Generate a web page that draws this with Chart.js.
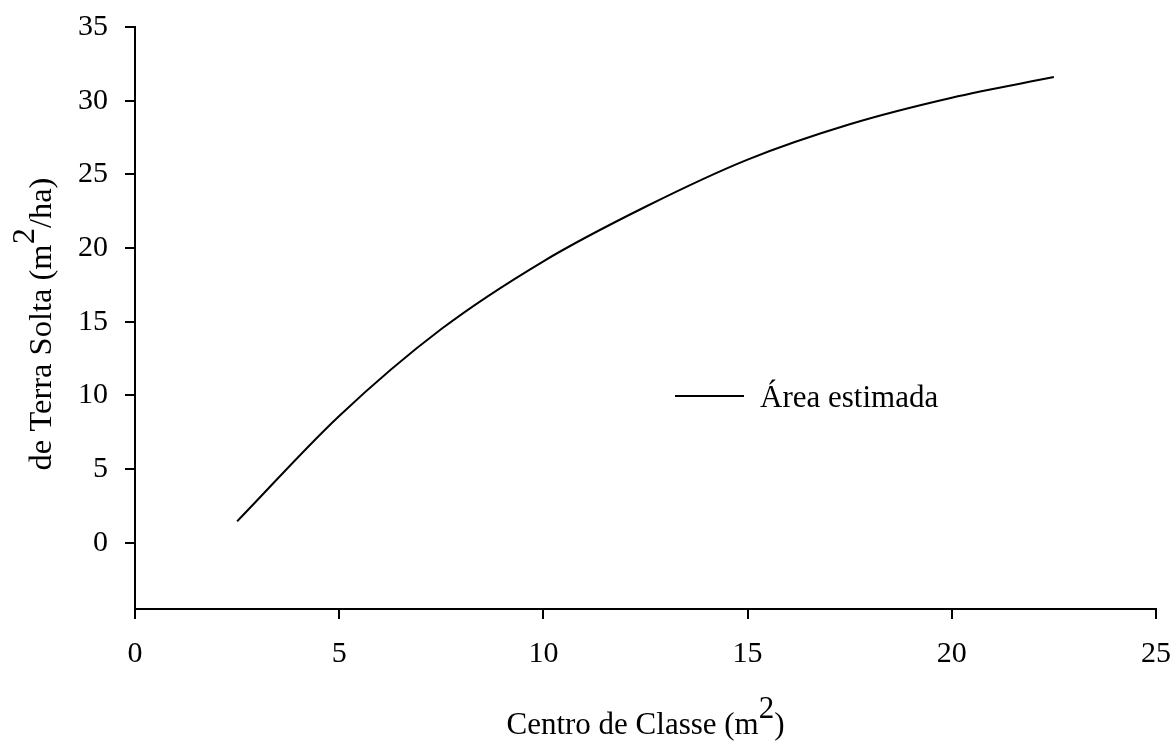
<!DOCTYPE html>
<html>
<head>
<meta charset="utf-8">
<script src="https://cdn.jsdelivr.net/npm/chart.js@4.4.1/dist/chart.umd.min.js"></script>
<style>
  html, body { margin: 0; padding: 0; background: #fff; }
  #wrap { width: 1172px; height: 742px; }
</style>
</head>
<body>
<div id="wrap"><canvas id="chart" width="1172" height="742"></canvas></div>
<script>
// values
const classCenters = [2.5, 5, 7.5, 10, 12.5, 15, 17.5, 20, 22.5]
const estimatedArea = [1.45, 8.6, 14.5, 19.1, 22.8, 26.0, 28.4, 30.2, 31.6]
const xTicks = [0, 5, 10, 15, 20, 25]
const yTicks = [0, 5, 10, 15, 20, 25, 30, 35]
const seriesLabel = "Área estimada"
const xTitle = [["Centro de Classe (m", false], ["2", true], [")", false]]
const yTitle = [["de Terra Solta (m", false], ["2", true], ["/ha)", false]]

const FONT = "'Liberation Serif', 'Times New Roman', serif"
const TEXT_SIZE = 30

function drawRich(ctx, parts, size) {
  // centred on 0, alphabetic baseline at 0
  ctx.font = `${size}px ${FONT}`
  const total = parts.reduce((w, p) => w + ctx.measureText(p[0]).width, 0)
  let x = -total / 2
  ctx.textAlign = "left"
  ctx.textBaseline = "alphabetic"
  ctx.fillStyle = "#000"
  for (const [text, sup] of parts) {
    ctx.fillText(text, x, sup ? -size * 0.52 : 0)
    x += ctx.measureText(text).width
  }
}

const extras = {
  id: "extras",
  afterDraw(chart) {
    const ctx = chart.ctx
    const area = chart.chartArea

    // x axis title
    ctx.save()
    ctx.translate((area.left + area.right) / 2, 734)
    drawRich(ctx, xTitle, 31)
    ctx.restore()

    // y axis title
    ctx.save()
    ctx.translate(51, 324)
    ctx.rotate(-Math.PI / 2)
    drawRich(ctx, yTitle, 32.5)
    ctx.restore()

    // legend inside the plot
    const ds = chart.data.datasets[0]
    ctx.save()
    ctx.strokeStyle = ds.borderColor
    ctx.lineWidth = ds.borderWidth
    ctx.beginPath()
    ctx.moveTo(675, 396)
    ctx.lineTo(744, 396)
    ctx.stroke()
    ctx.font = `31px ${FONT}`
    ctx.fillStyle = "#000"
    ctx.textAlign = "left"
    ctx.textBaseline = "alphabetic"
    ctx.fillText(ds.label, 760, 407)
    ctx.restore()
  }
}

const ctx = document.getElementById("chart").getContext("2d")

new Chart(ctx, {
  type: "line",
  data: {
    datasets: [{
      label: seriesLabel,
      data: classCenters.map((x, i) => ({ x: x, y: estimatedArea[i] })),
      borderColor: "#000",
      borderWidth: 2,
      pointRadius: 0,
      fill: false,
      cubicInterpolationMode: "monotone"
    }]
  },
  options: {
    responsive: false,
    animation: false,
    devicePixelRatio: 1,
    layout: { padding: { top: 27, right: 16, left: 0, bottom: 0 } },
    plugins: {
      legend: { display: false },
      tooltip: { enabled: false }
    },
    scales: {
      x: {
        type: "linear",
        min: 0,
        max: 25,
        afterBuildTicks: (scale) => { scale.ticks = xTicks.map(v => ({ value: v })) },
        afterFit: (scale) => {
          scale.height = 133
          scale.paddingLeft = 0
          scale.paddingRight = 0
        },
        ticks: {
          color: "#000",
          padding: 17,
          maxRotation: 0,
          font: { family: FONT, size: TEXT_SIZE }
        },
        grid: {
          drawOnChartArea: false,
          drawTicks: true,
          tickLength: 10,
          lineWidth: 2,
          color: "#000"
        },
        border: { display: true, color: "#000", width: 2 }
      },
      y: {
        type: "linear",
        min: -4.5,
        max: 35,
        afterBuildTicks: (scale) => { scale.ticks = yTicks.map(v => ({ value: v })) },
        afterFit: (scale) => {
          scale.width = 135
          scale.paddingTop = 0
          scale.paddingBottom = 0
        },
        ticks: {
          color: "#000",
          padding: 17,
          font: { family: FONT, size: TEXT_SIZE }
        },
        grid: {
          drawOnChartArea: false,
          drawTicks: true,
          tickLength: 10,
          lineWidth: 2,
          color: "#000"
        },
        border: { display: true, color: "#000", width: 2 }
      }
    }
  },
  plugins: [extras]
})
</script>
</body>
</html>
